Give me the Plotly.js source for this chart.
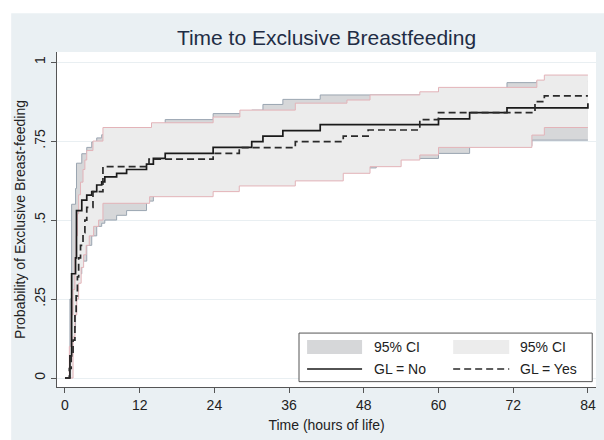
<!DOCTYPE html>
<html><head><meta charset="utf-8">
<script src="https://cdn.plot.ly/plotly-3.0.1.min.js"></script>
<style>html,body{margin:0;padding:0;background:#fff}#chart{width:604px;height:440px}</style>
</head><body><div id="chart"></div>
<script>
// Kaplan-Meier style step curves (time in hours, probability)
const noT  = [0, 0.8, 1.07, 1.7, 1.85, 2.7, 3.5, 4.3, 5.1, 5.9, 6.4, 8.3, 9.9, 13.1, 14.2, 16.1, 23.8, 30.0, 31.8, 35.0, 41.0, 60.0, 65.0, 71.0, 84];
const noP  = [0, 0.07, 0.33, 0.38, 0.53, 0.563, 0.579, 0.59, 0.611, 0.621, 0.637, 0.648, 0.66, 0.677, 0.695, 0.711, 0.73, 0.748, 0.766, 0.783, 0.802, 0.82, 0.84, 0.855, 0.87];

const yesT = [0, 0.7, 1.0, 1.3, 1.6, 1.8, 2.0, 2.2, 2.5, 2.9, 3.2, 3.5, 4.5, 6.1, 13.5, 23.8, 28.0, 37.0, 44.7, 48.7, 57.0, 60.0, 75.5, 77.0, 84];
const yesP = [0, 0.03, 0.07, 0.12, 0.2, 0.26, 0.32, 0.38, 0.42, 0.46, 0.5, 0.54, 0.59, 0.669, 0.693, 0.711, 0.729, 0.748, 0.766, 0.785, 0.818, 0.84, 0.875, 0.893, 0.893];

// 95% CI, GL = No
const noLoT = [0, 0.8, 1.07, 1.7, 1.85, 2.7, 3.5, 4.3, 5.1, 5.9, 6.4, 8.3, 9.9, 13.1, 14.2, 16.1, 23.8, 30.0, 35.0, 41.0, 50.0, 60.0, 65.0, 75.0, 84];
const noLoP = [0, 0.01, 0.16, 0.2, 0.33, 0.37, 0.42, 0.45, 0.48, 0.49, 0.50, 0.515, 0.53, 0.56, 0.58, 0.59, 0.61, 0.63, 0.65, 0.665, 0.695, 0.711, 0.735, 0.753, 0.753];
const noUpT = [0, 0.8, 1.07, 1.7, 1.85, 2.7, 3.5, 4.3, 5.1, 5.9, 6.4, 13.1, 14.2, 16.1, 23.8, 30.0, 31.8, 35.0, 41.0, 60.0, 65.0, 71.0, 75.8, 84];
const noUpP = [0, 0.25, 0.55, 0.6, 0.68, 0.71, 0.73, 0.747, 0.76, 0.77, 0.785, 0.79, 0.80, 0.818, 0.837, 0.848, 0.866, 0.882, 0.896, 0.91, 0.915, 0.935, 0.94, 0.94];

// 95% CI, GL = Yes
const yesLoT = [0, 1.3, 1.6, 1.9, 2.2, 2.6, 3.0, 3.4, 3.9, 4.6, 5.4, 6.1, 13.6, 23.8, 28.0, 37.0, 44.7, 49.0, 54.0, 57.0, 60.0, 75.0, 77.0, 84];
const yesLoP = [0, 0.13, 0.2, 0.25, 0.3, 0.35, 0.39, 0.42, 0.45, 0.48, 0.50, 0.553, 0.574, 0.59, 0.608, 0.624, 0.648, 0.669, 0.69, 0.706, 0.73, 0.769, 0.793, 0.793];
const yesUpT = [0, 0.7, 1.0, 1.3, 1.6, 1.8, 2.0, 2.2, 2.5, 2.9, 3.2, 3.5, 4.5, 6.1, 13.9, 23.8, 28.1, 37.0, 45.3, 49.0, 57.0, 60.0, 75.8, 77.0, 84];
const yesUpP = [0, 0.10, 0.20, 0.28, 0.38, 0.45, 0.52, 0.58, 0.62, 0.66, 0.69, 0.72, 0.75, 0.793, 0.808, 0.826, 0.848, 0.87, 0.88, 0.896, 0.906, 0.92, 0.943, 0.959, 0.959];

const xTicks = [0, 12, 24, 36, 48, 60, 72, 84];
const yTicks = [0, 0.25, 0.5, 0.75, 1];
const yTickText = ['0', '.25', '.5', '.75', '1'];
const legendLabels = ['95% CI', '95% CI', 'GL = No', 'GL = Yes'];

const FONT = 'Liberation Sans, Arial, sans-serif';
const ciNoFill = '#d6d7d9', ciNoLine = '#9aa5b1';
const ciYesFill = '#ececec', ciYesLine = '#e3b3b8';

const traces = [
  {x: noLoT, y: noLoP, mode: 'lines', line: {shape: 'hv', color: ciNoLine, width: 1}, hoverinfo: 'skip', showlegend: false},
  {x: noUpT, y: noUpP, mode: 'lines', line: {shape: 'hv', color: ciNoLine, width: 1}, fill: 'tonexty', fillcolor: ciNoFill, hoverinfo: 'skip', showlegend: false},
  {x: yesLoT, y: yesLoP, mode: 'lines', line: {shape: 'hv', color: ciYesLine, width: 1}, hoverinfo: 'skip', showlegend: false},
  {x: yesUpT, y: yesUpP, mode: 'lines', line: {shape: 'hv', color: ciYesLine, width: 1}, fill: 'tonexty', fillcolor: ciYesFill, hoverinfo: 'skip', showlegend: false},
  {x: noT, y: noP, mode: 'lines', name: 'GL = No', line: {shape: 'hv', color: '#1a1a1a', width: 1.7}, showlegend: false},
  {x: yesT, y: yesP, mode: 'lines', name: 'GL = Yes', line: {shape: 'hv', color: '#2a2a2a', width: 1.7, dash: '7px,4px'}, showlegend: false}
];

// legend geometry in paper coords
const lgX0 = 0.449, lgX1 = 0.993, lgY0 = 0.016, lgY1 = 0.161;
const r1 = 0.1194, r2 = 0.0537;
const c1a = 0.464, c1b = 0.566, c1t = 0.585;
const c2a = 0.735, c2b = 0.839, c2t = 0.856;

const layout = {
  width: 604, height: 440,
  margin: {l: 57, r: 8, t: 52, b: 53},
  paper_bgcolor: '#ffffff',
  plot_bgcolor: 'rgba(0,0,0,0)',
  font: {family: FONT, size: 14, color: '#222'},
  title: {text: 'Time to Exclusive Breastfeeding', font: {family: FONT, size: 21, color: '#1f2d45'},
          x: 0.5, xref: 'paper', xanchor: 'center', y: 1 - 38/440, yref: 'container', yanchor: 'middle'},
  xaxis: {range: [-1.28, 85.3], tickvals: xTicks, ticktext: xTicks.map(String), ticks: 'outside', ticklen: 5,
          tickcolor: '#555', showline: true, linecolor: '#555', linewidth: 1, showgrid: false, zeroline: false,
          tickfont: {size: 14, color: '#222'},
          title: {text: 'Time (hours of life)', font: {size: 14, color: '#222'}, standoff: 8}},
  yaxis: {range: [-0.0285, 1.032], tickvals: yTicks, ticktext: yTickText, tickangle: -90, ticks: 'outside', ticklen: 5,
          tickcolor: '#555', showline: true, linecolor: '#555', linewidth: 1, showgrid: true, gridcolor: '#e9eff2',
          gridwidth: 1, zeroline: false, tickfont: {size: 14, color: '#222'},
          title: {text: 'Probability of Exclusive Breast-feeding', font: {size: 14, color: '#222'}, standoff: 3}},
  shapes: [
    {type: 'rect', layer: 'below', xref: 'paper', yref: 'paper', x0: -0.085, x1: 1.03, y0: -0.2, y1: 1.116, fillcolor: '#eaf0f3', line: {width: 0}},
    {type: 'rect', layer: 'below', xref: 'paper', yref: 'paper', x0: 0, x1: 1, y0: 0, y1: 1, fillcolor: '#ffffff', line: {width: 0}},
    {type: 'rect', xref: 'paper', yref: 'paper', x0: lgX0, x1: lgX1, y0: lgY0, y1: lgY1, fillcolor: '#ffffff', line: {color: '#555', width: 1}},
    {type: 'rect', xref: 'paper', yref: 'paper', x0: c1a, x1: c1b, y0: r1 - 0.021, y1: r1 + 0.021, fillcolor: ciNoFill, line: {width: 0}},
    {type: 'rect', xref: 'paper', yref: 'paper', x0: c2a, x1: c2b, y0: r1 - 0.021, y1: r1 + 0.021, fillcolor: ciYesFill, line: {width: 0}},
    {type: 'line', xref: 'paper', yref: 'paper', x0: c1a, x1: c1b, y0: r2, y1: r2, line: {color: '#1a1a1a', width: 1.5}},
    {type: 'line', xref: 'paper', yref: 'paper', x0: c2a, x1: c2b, y0: r2, y1: r2, line: {color: '#2a2a2a', width: 1.5, dash: '7px,4px'}}
  ],
  annotations: [
    {xref: 'paper', yref: 'paper', x: c1t, y: r1, text: legendLabels[0], showarrow: false, xanchor: 'left', yanchor: 'middle', font: {size: 14, color: '#222'}},
    {xref: 'paper', yref: 'paper', x: c2t, y: r1, text: legendLabels[1], showarrow: false, xanchor: 'left', yanchor: 'middle', font: {size: 14, color: '#222'}},
    {xref: 'paper', yref: 'paper', x: c1t, y: r2, text: legendLabels[2], showarrow: false, xanchor: 'left', yanchor: 'middle', font: {size: 14, color: '#222'}},
    {xref: 'paper', yref: 'paper', x: c2t, y: r2, text: legendLabels[3], showarrow: false, xanchor: 'left', yanchor: 'middle', font: {size: 14, color: '#222'}}
  ],
  showlegend: false
};

Plotly.newPlot('chart', traces, layout, {displayModeBar: false, staticPlot: true});
</script>
</body></html>
